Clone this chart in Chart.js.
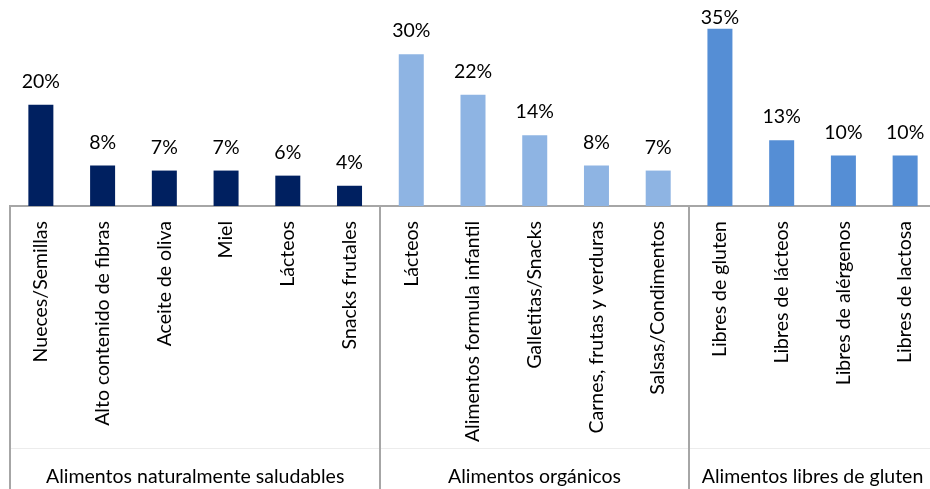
<!DOCTYPE html>
<html><head><meta charset="utf-8">
<script src="https://cdn.jsdelivr.net/npm/chart.js@4.4.0/dist/chart.umd.min.js"></script>
<style>
html,body{margin:0;padding:0;background:#fff;overflow:hidden;}
#wrap{position:relative;width:936px;height:489px;}
</style></head><body>
<div id="wrap"><canvas id="c"></canvas></div>
<script>
const categories = [
  'Nueces/Semillas','Alto contenido de fibras','Aceite de oliva','Miel','Lácteos','Snacks frutales',
  'Lácteos','Alimentos formula infantil','Galletitas/Snacks','Carnes, frutas y verduras','Salsas/Condimentos',
  'Libres de gluten','Libres de lácteos','Libres de alérgenos','Libres de lactosa'
];
const values = [20, 8, 7, 7, 6, 4, 30, 22, 14, 8, 7, 35, 13, 10, 10];
const groupNames = ['Alimentos naturalmente saludables', 'Alimentos orgánicos', 'Alimentos libres de gluten'];
const groupSizes = [6, 5, 4];
const groupColors = ['#002060', '#8EB4E3', '#558ED5'];

const FONT = 'Lato, "Liberation Sans", sans-serif';
const FS = 19.5;
const barColors = [];
groupSizes.forEach((n, g) => { for (let i = 0; i < n; i++) barColors.push(groupColors[g]); });

const overlay = {
  id: 'overlay',
  afterDatasetsDraw(chart) {
    const ctx = chart.ctx, meta = chart.getDatasetMeta(0);
    ctx.save();
    ctx.font = FS + 'px ' + FONT;
    ctx.fillStyle = '#000';
    ctx.textAlign = 'center';
    ctx.textBaseline = 'middle';
    meta.data.forEach((bar, i) => ctx.fillText(values[i] + '%', bar.x, Math.max(bar.y - 23, 18)));
    ctx.restore();
  },
  afterDraw(chart) {
    const ctx = chart.ctx, xs = chart.scales.x, area = chart.chartArea, H = chart.height;
    const half = (xs.getPixelForValue(1) - xs.getPixelForValue(0)) / 2;
    ctx.save();
    ctx.strokeStyle = '#ECECEC';
    ctx.lineWidth = 1;
    ctx.beginPath();
    ctx.moveTo(area.left, 448.5); ctx.lineTo(area.right, 448.5);
    ctx.stroke();
    ctx.strokeStyle = '#A6A6A6';
    ctx.lineWidth = 2;
    ctx.font = FS + 'px ' + FONT;
    ctx.fillStyle = '#000';
    ctx.textAlign = 'center';
    ctx.textBaseline = 'middle';
    let start = 0;
    groupSizes.forEach((n, g) => {
      const left = Math.round(xs.getPixelForValue(start) - half);
      const right = xs.getPixelForValue(start + n - 1) + half;
      ctx.beginPath();
      ctx.moveTo(left, area.bottom); ctx.lineTo(left, H);
      ctx.stroke();
      ctx.fillText(groupNames[g], (left + right) / 2, 477);
      start += n;
    });
    ctx.restore();
  }
};

new Chart(document.getElementById('c'), {
  type: 'bar',
  data: {
    labels: categories,
    datasets: [{ data: values, backgroundColor: barColors, barPercentage: 0.405, categoryPercentage: 1 }]
  },
  options: {
    responsive: true,
    maintainAspectRatio: false,
    animation: false,
    layout: { padding: { left: 10, right: 0, top: 0, bottom: 0 } },
    plugins: { legend: { display: false }, tooltip: { enabled: false } },
    scales: {
      y: { display: false, min: 0, max: 40.7 },
      x: {
        grid: { display: false, drawTicks: false },
        border: { display: true, color: '#A6A6A6', width: 2 },
        ticks: {
          autoSkip: false, maxRotation: 90, minRotation: 90, padding: 15,
          color: '#000', font: { family: FONT, size: FS }
        },
        afterFit(scale) { scale.height = 283; scale.paddingLeft = 0; scale.paddingRight = 0; }
      }
    }
  },
  plugins: [overlay]
});
</script>
</body></html>
